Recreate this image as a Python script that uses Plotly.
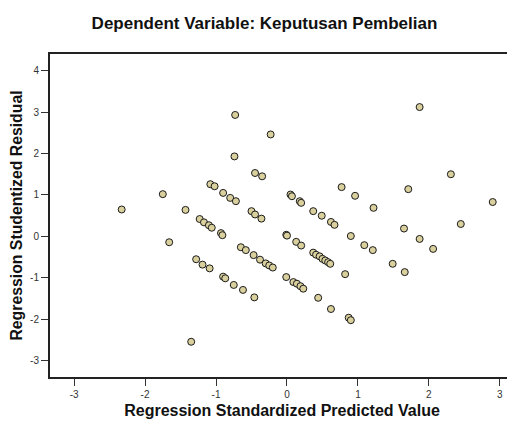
import plotly.graph_objects as go

x_pred = [
    -2.33, -1.75, -1.43, -1.66, -1.35,
    -1.08, -1.02, -0.90, -0.80, -0.72, -0.73, -0.74, -0.45, -0.35, -0.23,
    -1.23, -1.17, -1.10, -1.06, -0.93, -0.91, -0.50, -0.45, -0.36,
    -0.65, -0.58, -0.47, -0.38, -0.30, -0.25, -0.20,
    -1.28, -1.19, -1.09, -0.90, -0.87, -0.75, -0.62, -0.46,
    0.05, 0.07, 0.18, 0.20, 0.37, 0.49, 0.62, 0.67, 0.77, 0.96, 1.22,
    -0.01, 0.00, 0.13, 0.20, 0.37, 0.41, 0.46, 0.50, 0.54, 0.58, 0.61, 0.90, 1.09, 1.21, 0.82,
    -0.01, 0.09, 0.14, 0.19, 0.23, 0.44, 0.62, 0.87, 0.90,
    1.87, 2.31, 1.71, 2.90, 2.45, 1.65, 1.87, 2.06, 1.49, 1.66,
]
y_resid = [
    0.65, 1.02, 0.64, -0.14, -2.54,
    1.26, 1.21, 1.05, 0.93, 0.85, 2.93, 1.93, 1.53, 1.45, 2.46,
    0.42, 0.34, 0.27, 0.21, 0.08, 0.03, 0.61, 0.53, 0.43,
    -0.26, -0.33, -0.45, -0.56, -0.65, -0.70, -0.75,
    -0.55, -0.68, -0.77, -0.97, -1.01, -1.17, -1.29, -1.47,
    1.01, 0.97, 0.85, 0.81, 0.61, 0.50, 0.35, 0.28, 1.19, 0.98, 0.69,
    0.04, 0.02, -0.13, -0.22, -0.39, -0.44, -0.48, -0.54, -0.58, -0.62, -0.66, 0.01, -0.21, -0.33, -0.91,
    -0.98, -1.10, -1.14, -1.20, -1.26, -1.48, -1.75, -1.96, -2.02,
    3.12, 1.50, 1.14, 0.83, 0.30, 0.19, -0.06, -0.30, -0.66, -0.86,
]
x_ticks = [-3, -2, -1, 0, 1, 2, 3]
y_ticks = [-3, -2, -1, 0, 1, 2, 3, 4]

title_text = "Dependent Variable: Keputusan Pembelian"
x_title = "Regression Standardized Predicted Value"
y_title = "Regression Studentized Residual"

fig = go.Figure()
fig.add_trace(go.Scatter(
    x=x_pred, y=y_resid, mode="markers",
    marker=dict(size=7, color="#d9d09e", line=dict(color="#1a1a1a", width=1)),
    showlegend=False, hoverinfo="skip",
))

font_family = "Liberation Sans, Arial, sans-serif"
fig.update_layout(
    width=515, height=421,
    margin=dict(l=42, r=9, t=46, b=52, autoexpand=False),
    paper_bgcolor="white", plot_bgcolor="white",
    font=dict(family=font_family, color="#222"),
    title=dict(text="<b>" + title_text + "</b>", x=256.5 / 515, xref="container", xanchor="center",
               y=1 - 15 / 421, yref="container", yanchor="middle", font=dict(size=17, color="#111"),
               automargin=False),
)
fig.update_xaxes(
    range=[-3.34, 3.2], tickvals=x_ticks, ticktext=[str(v) for v in x_ticks],
    showgrid=False, zeroline=False, showline=True, linecolor="#222", linewidth=2,
    mirror=True, ticks="outside", ticklen=7, tickcolor="#333", tickwidth=1,
    tickfont=dict(size=10, color="#333"), automargin=False,
    title=dict(text="<b>" + x_title + "</b>", font=dict(size=16, color="#111"), standoff=6),
)
fig.update_yaxes(
    range=[-3.39, 4.4], tickvals=y_ticks, ticktext=[str(v) for v in y_ticks],
    showgrid=False, zeroline=False, showline=True, linecolor="#222", linewidth=2,
    mirror=False, ticks="outside", ticklen=7, tickcolor="#333", tickwidth=1,
    tickfont=dict(size=10, color="#333"), automargin=False,
    title=dict(text="<b>" + y_title + "</b>", font=dict(size=15.8, color="#111"), standoff=4),
)

fig.write_html("out.html")
